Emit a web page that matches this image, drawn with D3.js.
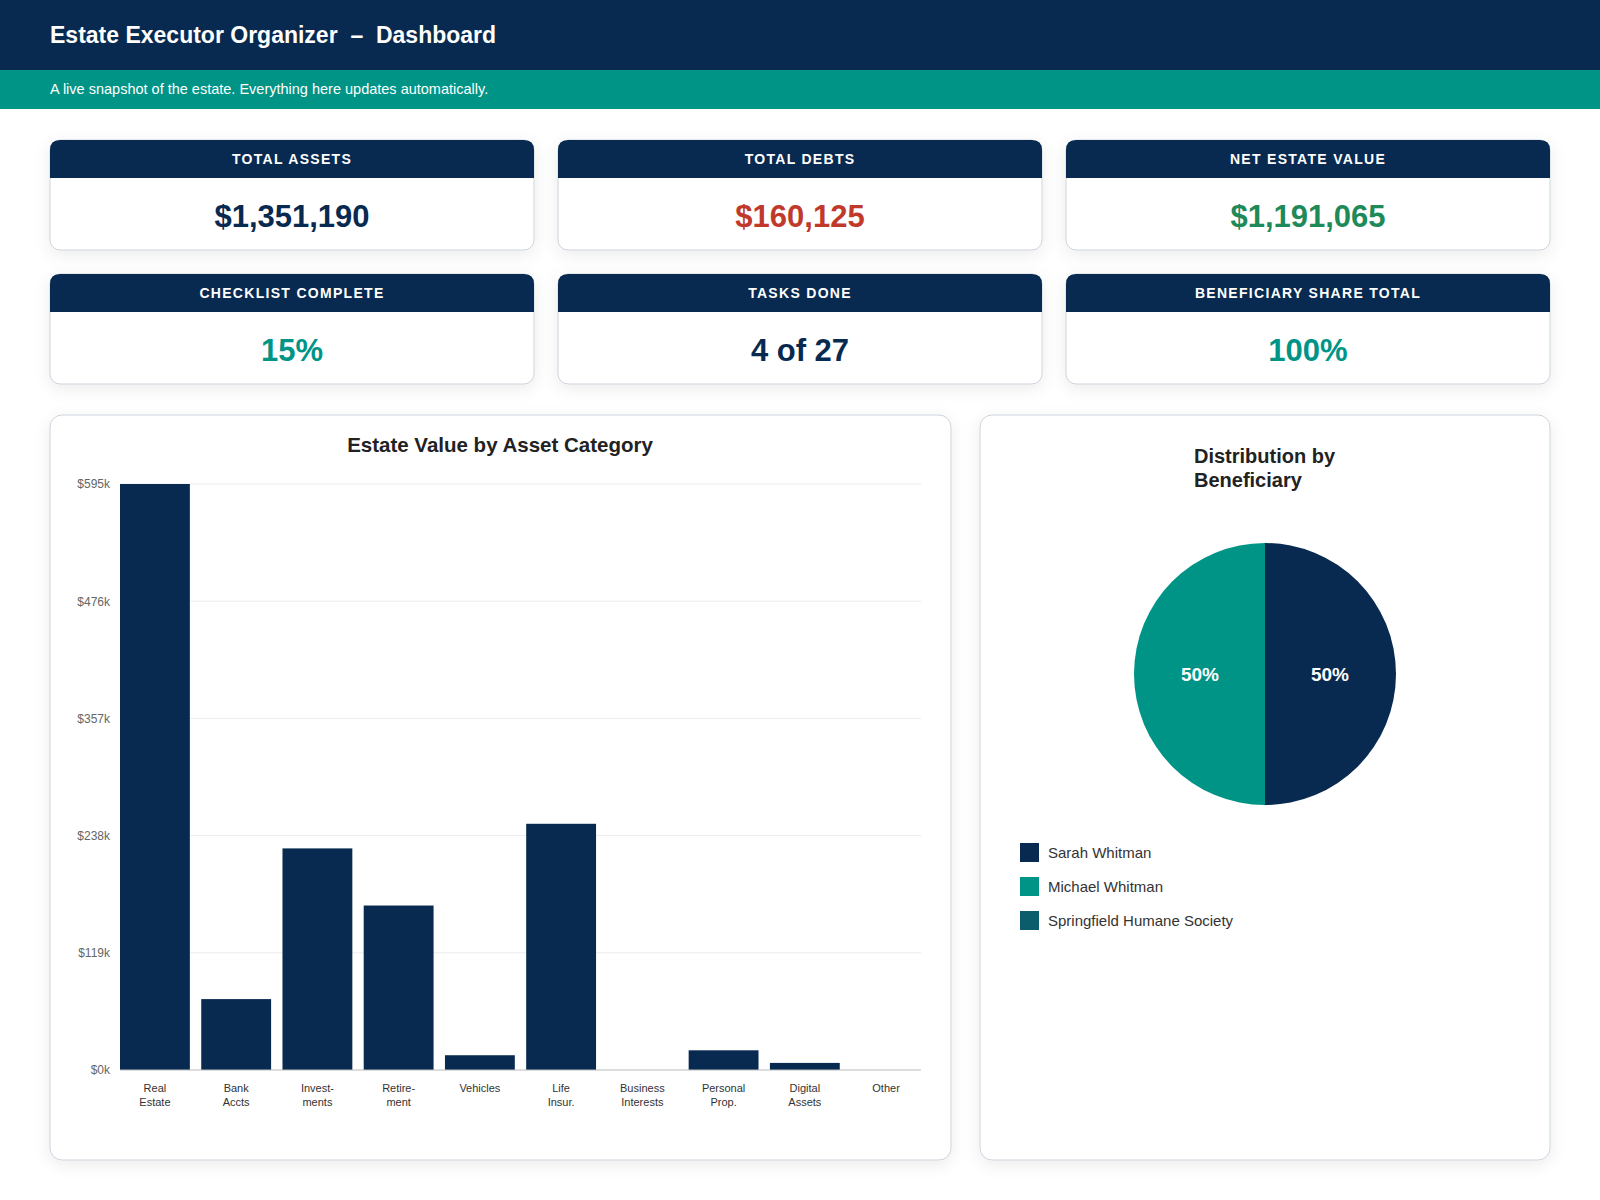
<!DOCTYPE html>
<html><head><meta charset="utf-8">
<script src="https://cdn.jsdelivr.net/npm/d3@7"></script>
<style>
body{margin:0;background:#fff;font-family:"Liberation Sans",Arial,sans-serif;}
svg{display:block}
</style></head>
<body>
<div id="root"></div>
<script>
var categories=["Real Estate","Bank Accts","Invest-ments","Retire-ment","Vehicles","Life Insur.","Business Interests","Personal Prop.","Digital Assets","Other"]
var catLines=[["Real","Estate"],["Bank","Accts"],["Invest-","ments"],["Retire-","ment"],["Vehicles"],["Life","Insur."],["Business","Interests"],["Personal","Prop."],["Digital","Assets"],["Other"]]
var assetValues=[595000,72000,225000,167000,15000,250000,0,20000,7190,0]
var yTicks=[0,119000,238000,357000,476000,595000]
var beneficiaries=["Sarah Whitman","Michael Whitman","Springfield Humane Society"]
var shares=[50,50,0]
var kpiLabels=["TOTAL ASSETS","TOTAL DEBTS","NET ESTATE VALUE","CHECKLIST COMPLETE","TASKS DONE","BENEFICIARY SHARE TOTAL"]
var kpiValues=["$1,351,190","$160,125","$1,191,065","15%","4 of 27","100%"]

var navy="#082a50", teal="#009487", dark="#0b5d6b"
var kpiColors=[navy,"#c0392b","#1e8a5a",teal,navy,teal]
var benColors=[navy,teal,dark]

var svg=d3.select('#root').append('svg').attr('width',1600).attr('height',1200)
var defs=svg.append('defs')
var f=defs.append('filter').attr('id','sh').attr('x','-10%').attr('y','-10%').attr('width','120%').attr('height','130%')
f.append('feDropShadow').attr('dx',0).attr('dy',4).attr('stdDeviation',8).attr('flood-color','#000').attr('flood-opacity',0.08)

// header
svg.append('rect').attr('width',1600).attr('height',70).attr('fill',navy)
svg.append('text').attr('x',50).attr('y',43).attr('fill','#fff').attr('font-size',23).attr('font-weight','bold')
  .text('Estate Executor Organizer  \u2013  Dashboard').attr('xml:space','preserve').style('white-space','pre')
svg.append('rect').attr('y',70).attr('width',1600).attr('height',39).attr('fill',teal)
svg.append('text').attr('x',50).attr('y',94).attr('fill','#fff').attr('font-size',14.5)
  .text('A live snapshot of the estate. Everything here updates automatically.')

// kpi cards
var cardX=[50,558,1066], cardY=[140,274], cw=484, ch=110
kpiLabels.forEach(function(l,i){
  var x=cardX[i%3], y=cardY[Math.floor(i/3)]
  var g=svg.append('g').attr('transform','translate('+x+','+y+')')
  g.append('rect').attr('width',cw).attr('height',ch).attr('rx',10).attr('fill','#fff').attr('stroke','#ccd3dc').attr('filter','url(#sh)')
  g.append('path').attr('d','M0,38 V10 Q0,0 10,0 H'+(cw-10)+' Q'+cw+',0 '+cw+',10 V38 Z').attr('fill',navy)
  g.append('text').attr('x',cw/2).attr('y',24).attr('text-anchor','middle').attr('fill','#fff').attr('font-size',14)
    .attr('font-weight','bold').attr('letter-spacing',1.3).text(l)
  g.append('text').attr('x',cw/2).attr('y',87).attr('text-anchor','middle').attr('fill',kpiColors[i]).attr('font-size',31)
    .attr('font-weight','bold').text(kpiValues[i])
})

// chart cards
svg.append('rect').attr('x',50).attr('y',415).attr('width',901).attr('height',745).attr('rx',12).attr('fill','#fff').attr('stroke','#ccd3dc').attr('filter','url(#sh)')
svg.append('rect').attr('x',980).attr('y',415).attr('width',570).attr('height',745).attr('rx',12).attr('fill','#fff').attr('stroke','#ccd3dc').attr('filter','url(#sh)')

// bar chart
svg.append('text').attr('x',500).attr('y',452).attr('text-anchor','middle').attr('font-size',20.5).attr('font-weight','bold').attr('fill','#222')
  .text('Estate Value by Asset Category')
var x=d3.scaleBand().domain(categories).range([120,921]).paddingInner(0.14).paddingOuter(0)
var y=d3.scaleLinear().domain([0,595000]).range([1070,484])
var bc=svg.append('g')
bc.selectAll('line.grid').data(yTicks.slice(1)).enter().append('line').attr('class','grid')
  .attr('x1',120).attr('x2',921).attr('y1',function(d){return y(d)}).attr('y2',function(d){return y(d)}).attr('stroke','#ececec')
var ax=bc.append('g').attr('transform','translate(120,0)').call(d3.axisLeft(y).tickValues(yTicks).tickSize(0).tickPadding(10)
  .tickFormat(function(d){return '$'+Math.round(d/1000)+'k'}))
ax.select('.domain').remove()
ax.selectAll('text').attr('font-size',12).attr('fill','#666').attr('font-family','"Liberation Sans",Arial,sans-serif')
bc.selectAll('rect.bar').data(assetValues).enter().append('rect').attr('class','bar')
  .attr('x',function(d,i){return x(categories[i])}).attr('width',x.bandwidth())
  .attr('y',function(d){return y(d)}).attr('height',function(d){return y(0)-y(d)}).attr('fill',navy)
bc.append('line').attr('x1',120).attr('x2',921).attr('y1',y(0)).attr('y2',y(0)).attr('stroke','#bbb')
catLines.forEach(function(ls,i){
  var t=bc.append('text').attr('text-anchor','middle').attr('font-size',11).attr('fill','#333')
  ls.forEach(function(s,j){t.append('tspan').attr('x',x(categories[i])+x.bandwidth()/2).attr('y',1092+j*14).text(s)})
})

// pie
var t=svg.append('text').attr('font-size',20).attr('font-weight','bold').attr('fill','#222')
t.append('tspan').attr('x',1194).attr('y',463).text('Distribution by')
t.append('tspan').attr('x',1194).attr('y',487).text('Beneficiary')
var pie=d3.pie().sort(null)(shares)
var arc=d3.arc().innerRadius(0).outerRadius(131)
var lab=d3.arc().innerRadius(65).outerRadius(65)
var pg=svg.append('g').attr('transform','translate(1265,674)')
pg.selectAll('path').data(pie).enter().append('path').attr('d',arc).attr('fill',function(d,i){return benColors[i]})
pg.selectAll('text').data(pie.filter(function(d){return d.value>0})).enter().append('text')
  .attr('transform',function(d){return 'translate('+lab.centroid(d)+')'}).attr('dy','0.35em').attr('text-anchor','middle')
  .attr('fill','#fff').attr('font-size',19).attr('font-weight','bold').text(function(d){return d.value+'%'})
beneficiaries.forEach(function(b,i){
  svg.append('rect').attr('x',1020).attr('y',843+i*34).attr('width',19).attr('height',19).attr('fill',benColors[i])
  svg.append('text').attr('x',1048).attr('y',858+i*34).attr('font-size',15).attr('fill','#333').text(b)
})
</script>
</body></html>
